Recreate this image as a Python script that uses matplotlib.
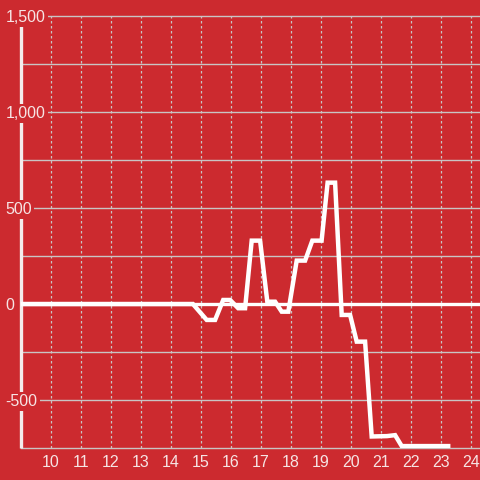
import matplotlib.pyplot as plt
from matplotlib.ticker import FuncFormatter

# values
hours = [9.0, 14.73, 15.19, 15.47, 15.74, 15.97, 16.24, 16.47, 16.69, 16.97,
         17.21, 17.47, 17.69, 17.91, 18.19, 18.47, 18.71, 19.02, 19.22, 19.47,
         19.69, 19.97, 20.19, 20.47, 20.69, 21.2, 21.47, 21.69, 23.24]
values = [0, 0, -83, -83, 21, 21, -22, -22, 330, 330,
          12, 12, -40, -40, 226, 226, 330, 330, 632, 632,
          -57, -57, -196, -196, -690, -688, -683, -740, -740]
x_ticks = list(range(10, 25))
y_ticks = [-500, 0, 500, 1000, 1500]
y_grid = [-750, -500, -250, 0, 250, 500, 750, 1000, 1250, 1500]

bg = "#CC2A2F"
grid_col = "#C9C4C4"
text_col = "#F6E4E4"

plt.rcParams['font.family'] = ['Liberation Sans', 'DejaVu Sans']

fig = plt.figure(figsize=(4.8, 4.8), dpi=100, facecolor=bg)
ax = fig.add_axes([21 / 480, 32 / 480, 459 / 480, 432 / 480], facecolor=bg)
ax.set_xlim(9, 24.3)
ax.set_ylim(-750, 1500)

for s in ax.spines.values():
    s.set_visible(False)

# grid
for g in y_grid:
    ax.axhline(g, color=grid_col, lw=1, zorder=0.5, clip_on=False)
for t in x_ticks:
    ax.axvline(t, color=grid_col, lw=0.9, ls=(0, (2, 2)), zorder=0.5)

# left axis line and zero line
ax.plot([9, 9], [-750, 1460], color="#F4ECEC", lw=2.4, zorder=1, clip_on=False,
        solid_capstyle='butt')
ax.axhline(0, color="white", lw=2.4, zorder=1.2)

ax.plot(hours, values, color="white", lw=3.2, zorder=3, solid_joinstyle='miter')

ax.set_xticks(x_ticks)
ax.set_yticks(y_ticks)
ax.yaxis.set_major_formatter(FuncFormatter(lambda v, p: f"{int(v):,}".replace("\u2212", "-")))
ax.tick_params(axis='both', length=0, colors=text_col, labelsize=11.5)
ax.tick_params(axis='x', pad=5)
ax.tick_params(axis='y', pad=11)
for lab in ax.get_yticklabels():
    lab.set_horizontalalignment('left')
    lab.set_bbox(dict(facecolor=bg, edgecolor='none', pad=1.5))
ax.yaxis.set_zorder(2)

fig.savefig("out.png", dpi=100, facecolor=bg)
